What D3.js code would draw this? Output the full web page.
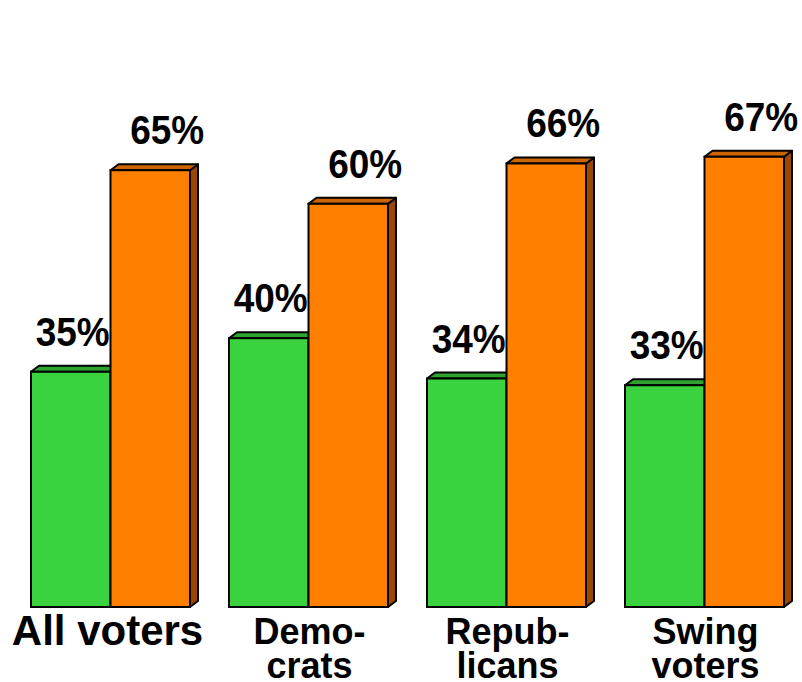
<!DOCTYPE html>
<html>
<head>
<meta charset="utf-8">
<script src="https://cdn.jsdelivr.net/npm/d3@7"></script>
<style>
  html, body { margin: 0; padding: 0; background: #fff; }
  svg { display: block; }
  text { font-family: "Liberation Sans", Arial, sans-serif; font-weight: bold; fill: #000; }
</style>
</head>
<body>
<svg id="chart" width="802" height="682"></svg>
<script>
// Voter groups and the two shares shown for each
const categories = ["All voters", "Demo-\ncrats", "Repub-\nlicans", "Swing\nvoters"];
const greenShare = [35, 40, 34, 33];
const orangeShare = [65, 60, 66, 67];
const series = ["green", "orange"];

const svg = d3.select("#chart");
const baseY = 607;
const depthX = 8, depthY = 6;

const colors = {
  green:  { front: "#3ad23e", top: "#2ea32f", side: "#1f7a21" },
  orange: { front: "#ff7f00", top: "#cc6500", side: "#9a4700" }
};

const x0 = d3.scaleBand().domain(categories).range([31, 784]).paddingInner(0.197).paddingOuter(0);
const x1 = d3.scaleBand().domain(series).range([0, x0.bandwidth()]);
const y = d3.scaleLinear().domain([0, 100]).range([baseY, baseY - 672]);

const rows = categories.map((c, i) => ({
  cat: c,
  bars: [
    { key: "green", value: greenShare[i] },
    { key: "orange", value: orangeShare[i] }
  ]
}));

const groups = svg.selectAll("g.group").data(rows).join("g")
  .attr("class", "group")
  .attr("transform", d => `translate(${x0(d.cat)},0)`);

const bar = groups.selectAll("g.bar").data(d => d.bars).join("g").attr("class", "bar");

bar.each(function (d) {
  const g = d3.select(this);
  const xl = x1(d.key), xr = xl + x1.bandwidth();
  const yt = y(d.value), yb = y(0);
  const c = colors[d.key];
  // side face
  g.append("path")
    .attr("d", `M${xr},${yb} L${xr + depthX},${yb - depthY} L${xr + depthX},${yt - depthY} L${xr},${yt} Z`)
    .attr("fill", c.side).attr("stroke", "#000").attr("stroke-width", 2).attr("stroke-linejoin", "round");
  // top face
  g.append("path")
    .attr("d", `M${xl},${yt} L${xl + depthX},${yt - depthY} L${xr + depthX},${yt - depthY} L${xr},${yt} Z`)
    .attr("fill", c.top).attr("stroke", "#000").attr("stroke-width", 2).attr("stroke-linejoin", "round");
  // front face
  g.append("rect")
    .attr("x", xl).attr("y", yt).attr("width", xr - xl).attr("height", yb - yt)
    .attr("fill", c.front).attr("stroke", "#000").attr("stroke-width", 2);
});

// value labels above each bar
const labelShift = { green: 2, orange: 17 };
groups.selectAll("text.value").data(d => d.bars).join("text")
  .attr("class", "value")
  .attr("x", d => x1(d.key) + x1.bandwidth() / 2 + labelShift[d.key])
  .attr("y", d => y(d.value) - 26)
  .attr("text-anchor", "middle")
  .attr("font-size", 41)
  .attr("textLength", 74)
  .attr("lengthAdjust", "spacingAndGlyphs")
  .text(d => d.value + "%");

// category labels under each group
groups.each(function (d) {
  const g = d3.select(this);
  const lines = d.cat.split("\n");
  const cx = x0.bandwidth() / 2;
  const t = g.append("text").attr("text-anchor", "middle");
  if (lines.length === 1) {
    t.attr("font-size", 42).attr("x", cx - 3).attr("y", 645).text(lines[0]);
  } else {
    t.attr("font-size", 36);
    lines.forEach((ln, j) => {
      t.append("tspan").attr("x", cx + 1).attr("y", 644 + j * 34).text(ln);
    });
  }
});
</script>
</body>
</html>
